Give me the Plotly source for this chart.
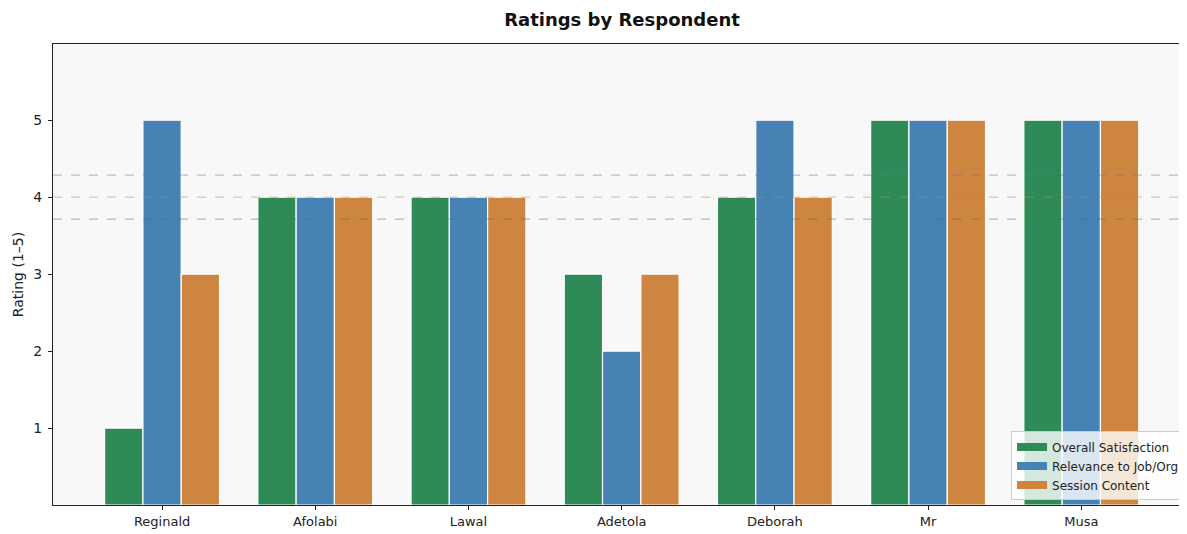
import numpy as np
import plotly.graph_objects as go

respondents = ["Reginald", "Afolabi", "Lawal", "Adetola", "Deborah", "Mr", "Musa"]
overall_satisfaction = [1, 4, 4, 3, 4, 5, 5]
relevance_to_job = [5, 4, 4, 2, 5, 5, 5]
session_content = [3, 4, 4, 3, 4, 5, 5]

series_names = ["Overall Satisfaction", "Relevance to Job/Org", "Session Content"]
series_values = [overall_satisfaction, relevance_to_job, session_content]
colors = ["#2e8b57", "#4682b4", "#cd853f"]
mean_line_colors = ["rgba(46,139,87,0.45)", "rgba(70,130,180,0.45)", "rgba(205,133,63,0.45)"]

fig = go.Figure()
for name, vals, c in zip(series_names, series_values, colors):
    fig.add_trace(go.Bar(
        x=respondents, y=vals, name=name, showlegend=False, legendgroup=name,
        marker=dict(color=c, line=dict(color="white", width=1.2)),
    ))
# legend entries drawn as wide patches
for name, c in zip(series_names, colors):
    fig.add_trace(go.Scatter(
        x=[None], y=[None], name=name, legendgroup=name, mode="lines",
        line=dict(color=c, width=8),
    ))

for vals, lc in zip(series_values, mean_line_colors):
    m = float(np.mean(vals))
    fig.add_shape(type="line", xref="paper", x0=0, x1=1, yref="y", y0=m, y1=m,
                  line=dict(color=lc, width=1.3, dash="dash"), layer="above")

W, H = 1179, 526
L, T, B = 45, 36, 29
font = "DejaVu Sans, Liberation Sans, sans-serif"
fig.update_layout(
    width=W, height=H,
    margin=dict(l=L, r=0, t=T, b=B),
    barmode="group", bargap=0.25, bargroupgap=0,
    plot_bgcolor="#f8f8f8", paper_bgcolor="white",
    font=dict(family=font, size=12, color="#222"),
    title=dict(text="<b>Ratings by Respondent</b>", x=614 / W, xanchor="center",
               y=1 - 12 / H, yanchor="middle", font=dict(size=18, color="#111", family=font)),
    legend=dict(x=0.9974, y=0.01, xanchor="right", yanchor="bottom",
                bgcolor="rgba(255,255,255,0.8)", bordercolor="#cccccc", borderwidth=1,
                font=dict(size=12, color="#222"), tracegroupgap=0, itemwidth=30),
    showlegend=True,
)
fig.update_xaxes(
    range=[-0.712, 6.69], showgrid=False, zeroline=False,
    showline=True, linecolor="#222", linewidth=1.2, mirror=True,
    ticks="outside", ticklen=4, tickcolor="#222", tickfont=dict(size=13, color="#222"),
)
fig.update_yaxes(
    range=[0, 5.99], showgrid=False, zeroline=False,
    showline=True, linecolor="#222", linewidth=1.2,
    tickvals=[1, 2, 3, 4, 5], ticks="outside", ticklen=4, tickcolor="#222",
    ticklabelstandoff=3,
    tickfont=dict(size=14, color="#222"),
    title=dict(text="Rating (1–5)", font=dict(size=14, color="#222"), standoff=6),
)

fig.write_html("out.html")
